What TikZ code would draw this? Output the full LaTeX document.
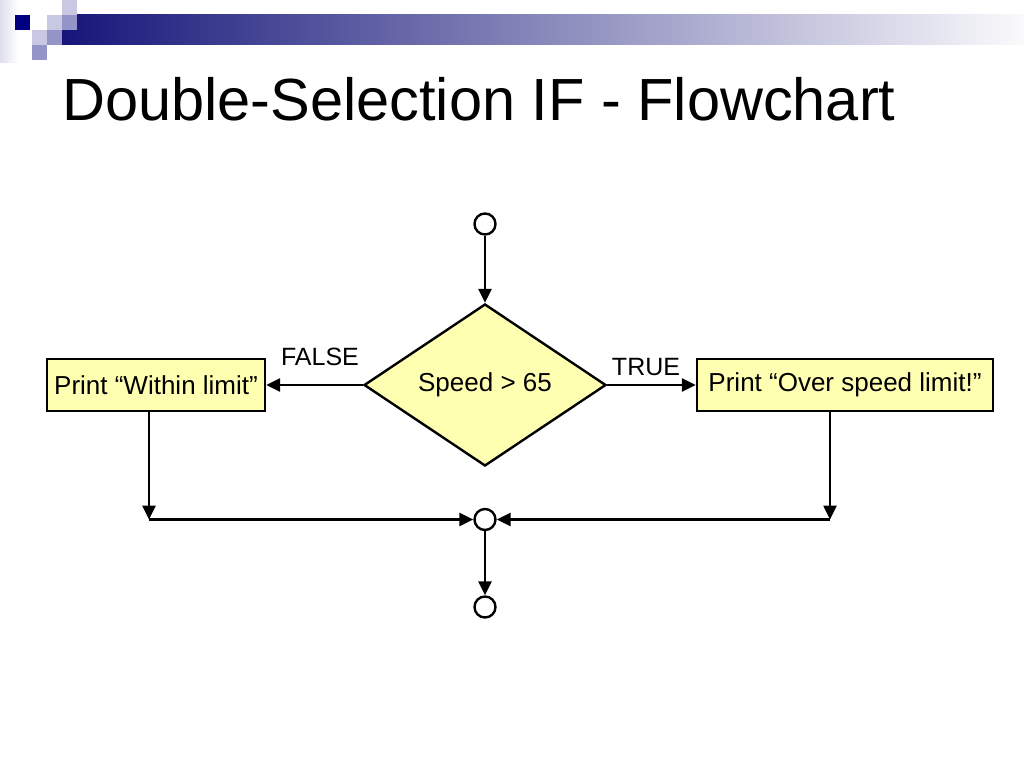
\documentclass[tikz,border=0pt]{standalone}
\usepackage{fontspec}
\setmainfont{Liberation Sans}
\usetikzlibrary{shapes.geometric,arrows.meta}
\definecolor{navy}{RGB}{0,0,128}
\definecolor{sqlight}{RGB}{200,200,226}
\definecolor{sqmid}{RGB}{148,148,200}
\definecolor{barleft}{RGB}{22,22,122}
\definecolor{barmid}{RGB}{150,150,172}
\definecolor{barright}{RGB}{250,250,252}
\definecolor{boxfill}{RGB}{255,255,178}
\begin{document}
\begin{tikzpicture}[x=1pt,y=-1pt,
  every node/.style={font=\fontsize{26}{31}\selectfont},
  circ/.style={circle,draw,line width=2.4pt,fill=white,minimum size=21pt,inner sep=0pt},
  box/.style={rectangle,draw,line width=2.4pt,fill=boxfill,minimum height=52pt,inner sep=0pt},
  dec/.style={diamond,draw,line width=2.4pt,fill=boxfill,minimum width=242pt,minimum height=162pt,inner sep=0pt},
  lbl/.style={inner sep=0pt,font=\fontsize{25}{30}\selectfont},
  arr/.style={line width=2.6pt,-{Triangle[length=14pt,width=13pt]}},
  sq/.style={draw=none}]
\useasboundingbox (0,0) rectangle (1024,768);
\fill[white] (0,0) rectangle (1024,768);
% header decoration
\shade[left color=sqlight!60, right color=white] (0,0) rectangle (18,62);
\shade[left color=barleft, middle color=barmid, right color=barright] (62,15) rectangle (1024,45);
\fill[navy] (15,15) rectangle (30,30);
\fill[sqlight] (62,0) rectangle (77,15);
\fill[sqlight] (47,15) rectangle (62,30);
\fill[sqmid] (62,15) rectangle (77,30);
\fill[sqlight] (32,30) rectangle (47,45);
\fill[sqmid] (47,30) rectangle (62,45);
\fill[sqmid] (32,45) rectangle (47,60);
% title
\node[anchor=base west,inner sep=0pt,font=\fontsize{59.5}{70}\selectfont] (title) at (62,120) {Double-Selection IF - Flowchart};
% flowchart
\node[circ] (start) at (485,224) {};
\node[dec] (dec) at (485,385) {Speed > 65};
\node[box,minimum width=218pt] (lbox) at (156,385) {Print “Within limit”};
\node[box,minimum width=296pt] (rbox) at (845,385) {Print “Over speed limit!”};
\node[circ] (merge) at (485,519.5) {};
\node[circ] (end) at (485,607) {};
\node[lbl] (falselbl) at (320,357) {FALSE};
\node[lbl] (truelbl) at (646,367) {TRUE};
\coordinate (lcorner) at (149,519.5);
\coordinate (rcorner) at (830,519.5);
\draw[arr] (start) -- (dec.north);
\draw[arr] (dec.west) -- (lbox.east);
\draw[arr] (dec.east) -- (rbox.west);
\draw[arr] (lbox.south -| lcorner) -- (lcorner);
\draw[arr] (lcorner) -- (merge);
\draw[arr] (rbox.south -| rcorner) -- (rcorner);
\draw[arr] (rcorner) -- (merge);
\draw[arr] (merge) -- (end);
\end{tikzpicture}
\end{document}
